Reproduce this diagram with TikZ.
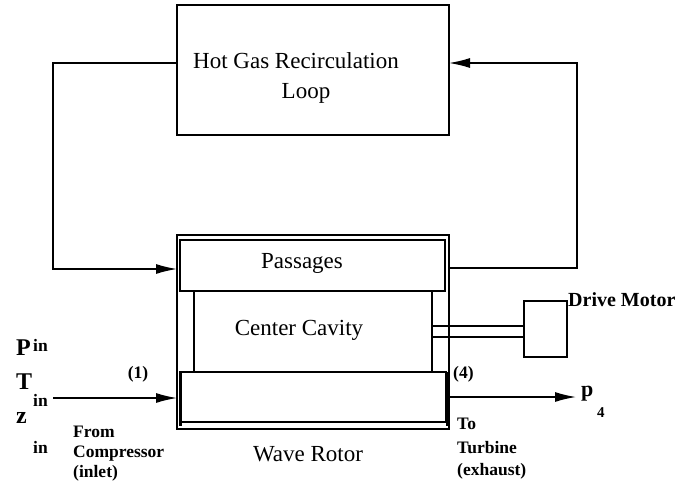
\documentclass[tikz,border=0pt]{standalone}
\usepackage{fontspec}
\setmainfont{Liberation Serif}
\usetikzlibrary{arrows.meta}
\tikzset{
  box/.style={draw, line width=1.7pt, inner sep=0pt, outer sep=0pt, rectangle},
  conn/.style={line width=1.4pt},
  arr/.style={line width=1.4pt, -{Latex[length=21pt,width=10pt]}},
  bigtext/.style={inner sep=0pt, font=\fontsize{23}{25}\selectfont},
  lbl/.style={inner sep=0pt, font=\fontsize{17.5}{19}\selectfont\bfseries},
}
\begin{document}
\begin{tikzpicture}[x=1pt,y=-1pt]
\useasboundingbox (0,0) rectangle (680,483);
% boxes
\node[box, minimum width=272pt, minimum height=130pt] (loop) at (313,70) {};
\node[box, minimum width=272pt, minimum height=194pt] (wrapper) at (313,332) {};
\node[box, minimum width=265pt, minimum height=51pt] (passages) at (312.5,265.5) {};
\node[box, minimum width=238pt, minimum height=81pt] (cavity) at (313,331.5) {};
\node[box, minimum width=266pt, minimum height=50pt] (rotor) at (313,397) {};
\node[box, minimum width=92pt, minimum height=11pt] (shaft) at (478,331.5) {};
\node[box, minimum width=43pt, minimum height=56pt] (motor) at (545.5,329) {};
\draw[line width=3pt] (rotor.north west) -- ([yshift=-4pt]rotor.south west);
\draw[line width=3pt] ([xshift=1.5pt]rotor.north east) -- ([xshift=1.5pt,yshift=-4pt]rotor.south east);
% texts
\node[bigtext, anchor=west] (hot) at (193,61) {Hot Gas Recirculation};
\node[bigtext] (looptxt) at (306,93) {Loop};
\node[bigtext] (ptxt) at (302,263) {Passages};
\node[bigtext] (ctxt) at (299,330) {Center Cavity};
\node[bigtext] (wtxt) at (308,454) {Wave Rotor};
\node[inner sep=0pt, anchor=west, font=\fontsize{20}{22}\selectfont\bfseries] (dm) at (568,300) {Drive Motor};
% connectors of the loop
\coordinate (lb) at (53,269);
\coordinate (rb) at (577,268);
\draw[arr] ([yshift=7pt]loop.west) -| (lb) -- (lb -| wrapper.west);
\draw[arr] (wrapper.east |- rb) -- (rb) |- ([yshift=7pt]loop.east);
% inlet / outlet
\coordinate (inl) at (53,398);
\coordinate (outl) at (576,397);
\draw[arr] (inl) -- (inl -| wrapper.west);
\draw[arr] (wrapper.east |- outl) -- (outl);
% labels
\node[inner sep=0pt, anchor=west, font=\fontsize{24}{26}\selectfont\bfseries] (P) at (16,348) {P};
\node[lbl, anchor=west] (Pin) at (33,345) {in};
\node[inner sep=0pt, anchor=west, font=\fontsize{24}{26}\selectfont\bfseries] (T) at (16,382) {T};
\node[lbl, anchor=west] (Tin) at (33,400) {in};
\node[inner sep=0pt, anchor=west, font=\fontsize{24}{26}\selectfont\bfseries] (Z) at (16,418) {z};
\node[lbl, anchor=west] (Zin) at (33,447) {in};
\node[lbl] (one) at (138,374) {(1)};
\node[lbl, anchor=west] (four) at (453,374) {(4)};
\node[lbl, anchor=west] (from) at (73,432) {From};
\node[lbl, anchor=west] (comp) at (73,454) {Compressor};
\node[lbl, anchor=west] (inlet) at (73,473) {(inlet)};
\node[lbl, anchor=west] (to) at (457,424) {To};
\node[lbl, anchor=west] (turb) at (457,448) {Turbine};
\node[lbl, anchor=west] (exh) at (457,471) {(exhaust)};
\node[inner sep=0pt, anchor=west, font=\fontsize{22}{24}\selectfont\bfseries] (p4) at (581,394) {p};
\node[inner sep=0pt, anchor=west, font=\fontsize{15}{17}\selectfont\bfseries] (four4) at (597,413) {4};
\end{tikzpicture}
\end{document}
